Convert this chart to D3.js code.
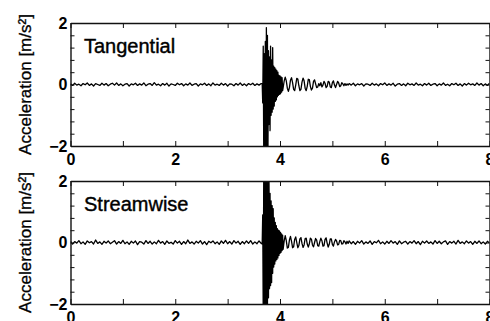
<!DOCTYPE html>
<html>
<head>
<meta charset="utf-8">
<script src="https://cdn.jsdelivr.net/npm/d3@7"></script>
<style>
  body { margin: 0; background: #fff; }
  svg { display: block; }
</style>
</head>
<body>
<svg id="chart" width="490" height="321"></svg>
<script>
// sampled segments: [start time, step] + hand-read values (m/s²)
const quietStart = 0, quietStep = 0.04;
const burstStart = 3.66, burstStep = 0.01;
const ringStart = 4.06, ringStep = 0.02;
const tailStart = 5.32, tailStep = 0.04;

const panelNames = ["Tangential", "Streamwise"];
const xTicks = [0, 1, 2, 3, 4, 5, 6, 7, 8];
const xLabels = [0, 2, 4, 6, 8];
const yLabels = [-2, 0, 2];

const tanQuiet = [
  0.02,-0.03,0.04,-0.02,0.01,-0.04,0.03,-0.01,0.05,-0.03,
  0.02,-0.05,0.03,0.00,-0.03,0.04,-0.02,0.03,-0.04,0.01,
  0.04,-0.02,0.05,-0.03,0.02,-0.04,0.01,0.03,-0.05,0.02,
  -0.01,0.04,-0.03,0.02,-0.02,0.05,-0.04,0.01,0.03,-0.03,
  0.06,-0.02,0.01,-0.04,0.03,-0.02,0.04,-0.05,0.02,0.00,
  -0.03,0.04,-0.01,0.03,-0.04,0.02,-0.02,0.05,-0.03,0.01,
  0.03,-0.05,0.02,-0.01,0.04,-0.03,0.02,-0.04,0.05,-0.02,
  0.01,-0.03,0.04,-0.02,0.03,-0.05,0.02,0.01,-0.04,0.03,
  -0.02,0.05,-0.03,0.02,-0.04,0.03,-0.01,0.04,-0.03,0.02,
  -0.02,0.03
];
const tanBurst = [
  0.03,-0.6,1.25,-2.3,1.0,-2.5,1.4,-2.3,1.85,-2.6,
  1.6,-2.2,1.1,-1.3,0.9,-1.5,1.25,-1.0,0.8,-0.9,
  1.2,-0.8,0.6,-0.7,0.55,-0.55,0.5,-0.5,0.45,-0.4,
  0.4,-0.35,0.3,-0.32,0.28,-0.3,0.25,-0.25,0.22,-0.2
];
const tanRing = [
  -0.1,0.12,0.24,0.12,-0.12,-0.22,-0.1,0.14,0.22,0.06,
  -0.16,-0.2,-0.02,0.2,0.18,-0.04,-0.2,-0.16,0.08,0.21,
  0.12,-0.12,-0.2,-0.06,0.17,0.16,-0.06,-0.18,-0.12,0.1,
  0.15,0.02,-0.1,-0.08,0.03,-0.04,0.06,-0.08,-0.02,0.1,
  0.04,-0.1,-0.06,0.1,0.08,-0.08,-0.1,0.06,0.12,-0.02,
  -0.1,0.0,0.1,0.05,-0.07,-0.04,0.06,0.02,-0.04,0.03,
  -0.03,0.02,-0.02
];
const tanTail = [
  0.03,-0.02,0.04,-0.04,0.02,-0.01,0.03,-0.05,0.02,0.01,
  -0.03,0.04,-0.02,0.02,-0.04,0.03,-0.01,0.05,-0.03,0.02,
  -0.02,0.04,-0.05,0.01,0.03,-0.03,0.02,-0.04,0.04,-0.01,
  0.02,-0.03,0.05,-0.02,0.01,-0.04,0.03,-0.02,0.04,-0.03,
  0.01,0.03,-0.04,0.02,-0.02,0.05,-0.03,0.01,-0.04,0.03,
  -0.01,0.04,-0.03,0.02,-0.05,0.03,-0.02,0.04,-0.01,0.02,
  -0.03,0.05,-0.02,0.03,-0.04,0.02,-0.03,0.04
];

const strQuiet = [
  0.04,-0.05,0.03,-0.02,0.06,-0.04,0.02,-0.06,0.05,-0.01,
  0.03,-0.05,0.08,-0.03,0.02,-0.06,0.04,-0.02,0.05,-0.04,
  0.01,0.06,-0.05,0.03,-0.03,0.07,-0.04,0.02,-0.06,0.04,
  -0.02,0.05,-0.07,0.03,0.01,-0.05,0.06,-0.03,0.04,-0.05,
  0.02,-0.04,0.07,-0.02,0.03,-0.06,0.05,-0.03,0.01,-0.05,
  0.06,-0.02,0.04,-0.06,0.03,-0.04,0.08,-0.03,0.02,-0.05,
  0.04,-0.02,0.06,-0.05,0.03,-0.07,0.04,-0.01,0.05,-0.04,
  0.02,-0.06,0.05,-0.03,0.07,-0.04,0.03,-0.05,0.06,-0.02,
  0.04,-0.06,0.03,-0.04,0.05,-0.03,0.06,-0.05,0.02,-0.04,
  0.05,-0.03
];
const strBurst = [
  -0.05,0.9,-2.4,2.5,-2.6,2.4,-2.5,2.5,-2.4,2.3,
  -2.3,2.2,-1.8,2.1,-1.5,1.6,-1.4,1.35,-1.3,1.2,
  -1.0,1.1,-0.8,0.8,-0.7,0.65,-0.6,0.55,-0.55,0.45,
  -0.5,0.4,-0.42,0.38,-0.35,0.33,-0.32,0.28,-0.26,0.24
];
const strRing = [
  -0.22,0.05,0.22,0.06,-0.18,-0.16,0.08,0.2,0.04,-0.17,
  -0.14,0.1,0.18,0.0,-0.17,-0.1,0.12,0.16,-0.03,-0.16,
  -0.08,0.13,0.14,-0.05,-0.15,-0.04,0.14,0.11,-0.08,-0.14,
  0.0,0.13,0.08,-0.1,-0.12,0.03,0.14,0.06,-0.12,-0.1,
  0.1,0.15,-0.02,-0.15,-0.06,0.12,0.12,-0.06,-0.12,0.02,
  0.1,0.05,-0.08,-0.06,0.07,0.06,-0.05,-0.04,0.06,0.02,
  -0.05,0.04,-0.03
];
const strTail = [
  0.05,-0.04,0.03,-0.06,0.04,-0.02,0.06,-0.05,0.02,-0.03,
  0.05,-0.06,0.03,-0.01,0.07,-0.04,0.02,-0.05,0.04,-0.03,
  0.06,-0.02,0.03,-0.06,0.05,-0.04,0.01,0.04,-0.05,0.03,
  -0.02,0.06,-0.04,0.03,-0.07,0.04,-0.02,0.05,-0.03,0.02,
  -0.05,0.06,-0.03,0.04,-0.04,0.02,0.05,-0.06,0.03,-0.02,
  0.04,-0.05,0.07,-0.03,0.02,-0.04,0.05,-0.02,0.03,-0.06,
  0.04,-0.03,0.05,-0.04,0.02,-0.05,0.04,-0.02
];

function segment(start, step, values) {
  return values.map((v, i) => ({ t: start + i * step, v }));
}

function buildSeries(quiet, burst, ring, tail) {
  return [].concat(
    segment(quietStart, quietStep, quiet),
    segment(burstStart, burstStep, burst),
    segment(ringStart, ringStep, ring),
    segment(tailStart, tailStep, tail)
  );
}

const seriesList = [
  buildSeries(tanQuiet, tanBurst, tanRing, tanTail),
  buildSeries(strQuiet, strBurst, strRing, strTail)
];

const font = "'Liberation Sans', Arial, Helvetica, sans-serif";
const plotLeft = 70.5;
const plotRight = 489.5;
const panelTops = [23, 181];
const panelHeight = 123;

const svg = d3.select("#chart");

const x = d3.scaleLinear()
  .domain([0, 8])
  .range([plotLeft, plotRight]);

panelTops.forEach((top, i) => {
  const bottom = top + panelHeight;
  const y = d3.scaleLinear()
    .domain([-2, 2])
    .range([bottom, top]);

  const g = svg.append("g");

  g.append("clipPath")
    .attr("id", "clip" + i)
    .append("rect")
    .attr("x", plotLeft)
    .attr("y", top)
    .attr("width", plotRight - plotLeft)
    .attr("height", panelHeight);

  const line = d3.line()
    .x(d => x(d.t))
    .y(d => y(d.v));

  g.append("path")
    .datum(seriesList[i])
    .attr("clip-path", "url(#clip" + i + ")")
    .attr("fill", "none")
    .attr("stroke", "#000")
    .attr("stroke-width", 1.3)
    .attr("stroke-linejoin", "round")
    .attr("d", line);

  const yTicks = d3.range(-2, 2.001, 0.4);

  // bottom axis with labels
  g.append("g")
    .attr("transform", "translate(0," + bottom + ")")
    .call(d3.axisBottom(x)
      .tickValues(xTicks)
      .tickSizeInner(-5)
      .tickSizeOuter(0)
      .tickPadding(8)
      .tickFormat(d => xLabels.includes(d) ? d : ""));

  // top axis, ticks only
  g.append("g")
    .attr("transform", "translate(0," + top + ")")
    .call(d3.axisTop(x)
      .tickValues(xTicks)
      .tickSizeInner(-5)
      .tickSizeOuter(0)
      .tickFormat(""));

  // left axis with labels
  g.append("g")
    .attr("transform", "translate(" + plotLeft + ",0)")
    .call(d3.axisLeft(y)
      .tickValues(yTicks)
      .tickSizeInner(-4)
      .tickSizeOuter(0)
      .tickPadding(3)
      .tickFormat(d => yLabels.some(l => Math.abs(l - d) < 1e-6) ? d3.format(".0f")(d) : ""));

  // right axis, ticks only
  g.append("g")
    .attr("transform", "translate(" + plotRight + ",0)")
    .call(d3.axisRight(y)
      .tickValues(yTicks)
      .tickSizeInner(-4)
      .tickSizeOuter(0)
      .tickFormat(""));

  g.selectAll(".domain")
    .attr("stroke", "#111")
    .attr("stroke-width", 1.4);
  g.selectAll(".tick line")
    .attr("stroke", "#111")
    .attr("stroke-width", 1);
  g.selectAll(".tick text")
    .attr("fill", "#000")
    .style("font-family", font)
    .style("font-size", "16px")
    .style("font-weight", "bold");

  g.append("text")
    .attr("x", 84)
    .attr("y", top + 30)
    .style("font-family", font)
    .style("font-size", "20px")
    .attr("fill", "#000")
    .attr("stroke", "#000")
    .attr("stroke-width", 0.4)
    .text(panelNames[i]);

  g.append("text")
    .attr("transform", "translate(31," + (top + panelHeight / 2) + ") rotate(-90)")
    .attr("text-anchor", "middle")
    .style("font-family", font)
    .style("font-size", "17px")
    .attr("fill", "#000")
    .attr("stroke", "#000")
    .attr("stroke-width", 0.3)
    .text("Acceleration [m/s²]");
});
</script>
</body>
</html>
